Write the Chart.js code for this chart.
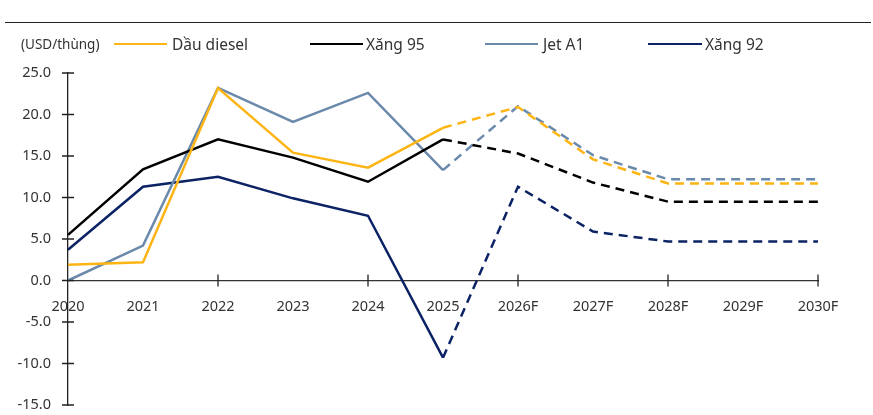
<!DOCTYPE html>
<html>
<head>
<meta charset="utf-8">
<script src="https://cdn.jsdelivr.net/npm/chart.js@4/dist/chart.umd.min.js"></script>
<style>
    body { margin: 0; background: #fff; font-family: "Noto Sans", sans-serif; }
    #wrap { position: relative; width: 873px; height: 415px; }
    #rule { position: absolute; left: 5px; top: 22px; width: 866px; border-top: 1.5px solid #222; }
    .lg { position: absolute; top: 33px; font-size: 15.5px; color: #333; white-space: nowrap; }
    .sw { position: absolute; top: 43px; height: 0; border-top: 2.5px solid; }
</style>
</head>
<body>
<div id="wrap">
    <canvas id="chart" width="873" height="415"></canvas>
    <div id="rule"></div>
    <div class="lg" style="left:21px;top:35px;font-size:13.5px">(USD/thùng)</div>
    <div class="sw" style="left:114px;width:53px;border-color:#FDB515"></div>
    <div class="lg" style="left:172px">Dầu diesel</div>
    <div class="sw" style="left:310px;width:53px;border-color:#000"></div>
    <div class="lg" style="left:366px">Xăng 95</div>
    <div class="sw" style="left:485px;width:53px;border-color:#6A89AB"></div>
    <div class="lg" style="left:543px">Jet A1</div>
    <div class="sw" style="left:648px;width:54px;border-color:#0B2265"></div>
    <div class="lg" style="left:705px">Xăng 92</div>
</div>
<script>
const years = ['2020', '2021', '2022', '2023', '2024', '2025', '2026F', '2027F', '2028F', '2029F', '2030F'];
const diesel = [1.9, 2.2, 23.2, 15.4, 13.6, 18.4, 20.9, 14.6, 11.7, 11.7, 11.7];
const xang95 = [5.5, 13.4, 17.0, 14.8, 11.9, 17.0, 15.3, 11.8, 9.5, 9.5, 9.5];
const jetA1 = [0.0, 4.2, 23.2, 19.1, 22.6, 13.3, 21.0, 15.1, 12.2, 12.2, 12.2];
const xang92 = [3.7, 11.3, 12.5, 9.9, 7.8, -9.3, 11.3, 5.9, 4.7, 4.7, 4.7];

const lastActual = 5;

const makeSet = (label, data, color) => ({
    label: label,
    data: data,
    borderColor: color,
    backgroundColor: color,
    borderWidth: 2.5,
    pointRadius: 0,
    tension: 0,
    segment: {
        borderDash: ctx => ctx.p0DataIndex >= lastActual ? [9, 6] : undefined
    }
});

// tick marks that cross the axis lines
const crossTicks = {
    id: 'crossTicks',
    afterDatasetsDraw(chart) {
        const ctx = chart.ctx;
        const x = chart.scales.x, y = chart.scales.y;
        const y0 = y.getPixelForValue(0);
        const x0 = chart.chartArea.left;
        ctx.save();
        ctx.strokeStyle = '#222';
        ctx.lineWidth = 1.3;
        ctx.beginPath();
        y.ticks.forEach((t, i) => {
            const py = y.getPixelForTick(i);
            ctx.moveTo(x0 - 6, py);
            ctx.lineTo(x0 + 6, py);
        });
        x.ticks.forEach((t, i) => {
            if (i % 2 === 0 && i > 0) {
                const px = x.getPixelForTick(i);
                ctx.moveTo(px, y0 - 6);
                ctx.lineTo(px, y0 + 6);
            }
        });
        ctx.stroke();
        ctx.restore();
    }
};

new Chart(document.getElementById('chart'), {
    type: 'line',
    data: {
        labels: years,
        datasets: [
            makeSet('Dầu diesel', diesel, '#FDB515'),
            makeSet('Xăng 95', xang95, '#000000'),
            makeSet('Jet A1', jetA1, '#6A89AB'),
            makeSet('Xăng 92', xang92, '#0B2265')
        ]
    },
    options: {
        responsive: false,
        animation: false,
        layout: {
            padding: {top: 73, right: 55, bottom: 10, left: 0}
        },
        plugins: {
            legend: {display: false},
            tooltip: {enabled: false}
        },
        scales: {
            x: {
                position: {y: 0},
                offset: false,
                afterFit(scale) {
                    scale.paddingTop = 0;
                    scale.paddingBottom = 0;
                },
                border: {display: true, color: '#333', width: 1.3},
                grid: {display: false, drawTicks: false},
                ticks: {
                    color: '#333',
                    padding: 18,
                    maxRotation: 0,
                    autoSkip: false,
                    font: {family: 'Noto Sans', size: 14.5}
                }
            },
            y: {
                min: -15,
                max: 25,
                afterFit(scale) {
                    scale.width = 68;
                    scale.paddingTop = 0;
                    scale.paddingBottom = 0;
                },
                border: {display: true, color: '#222', width: 1.3},
                grid: {display: false, drawTicks: false},
                ticks: {
                    stepSize: 5,
                    color: '#333',
                    padding: 17,
                    font: {family: 'Noto Sans', size: 14.5},
                    callback: v => v.toFixed(1)
                }
            }
        }
    },
    plugins: [crossTicks]
});
</script>
</body>
</html>
